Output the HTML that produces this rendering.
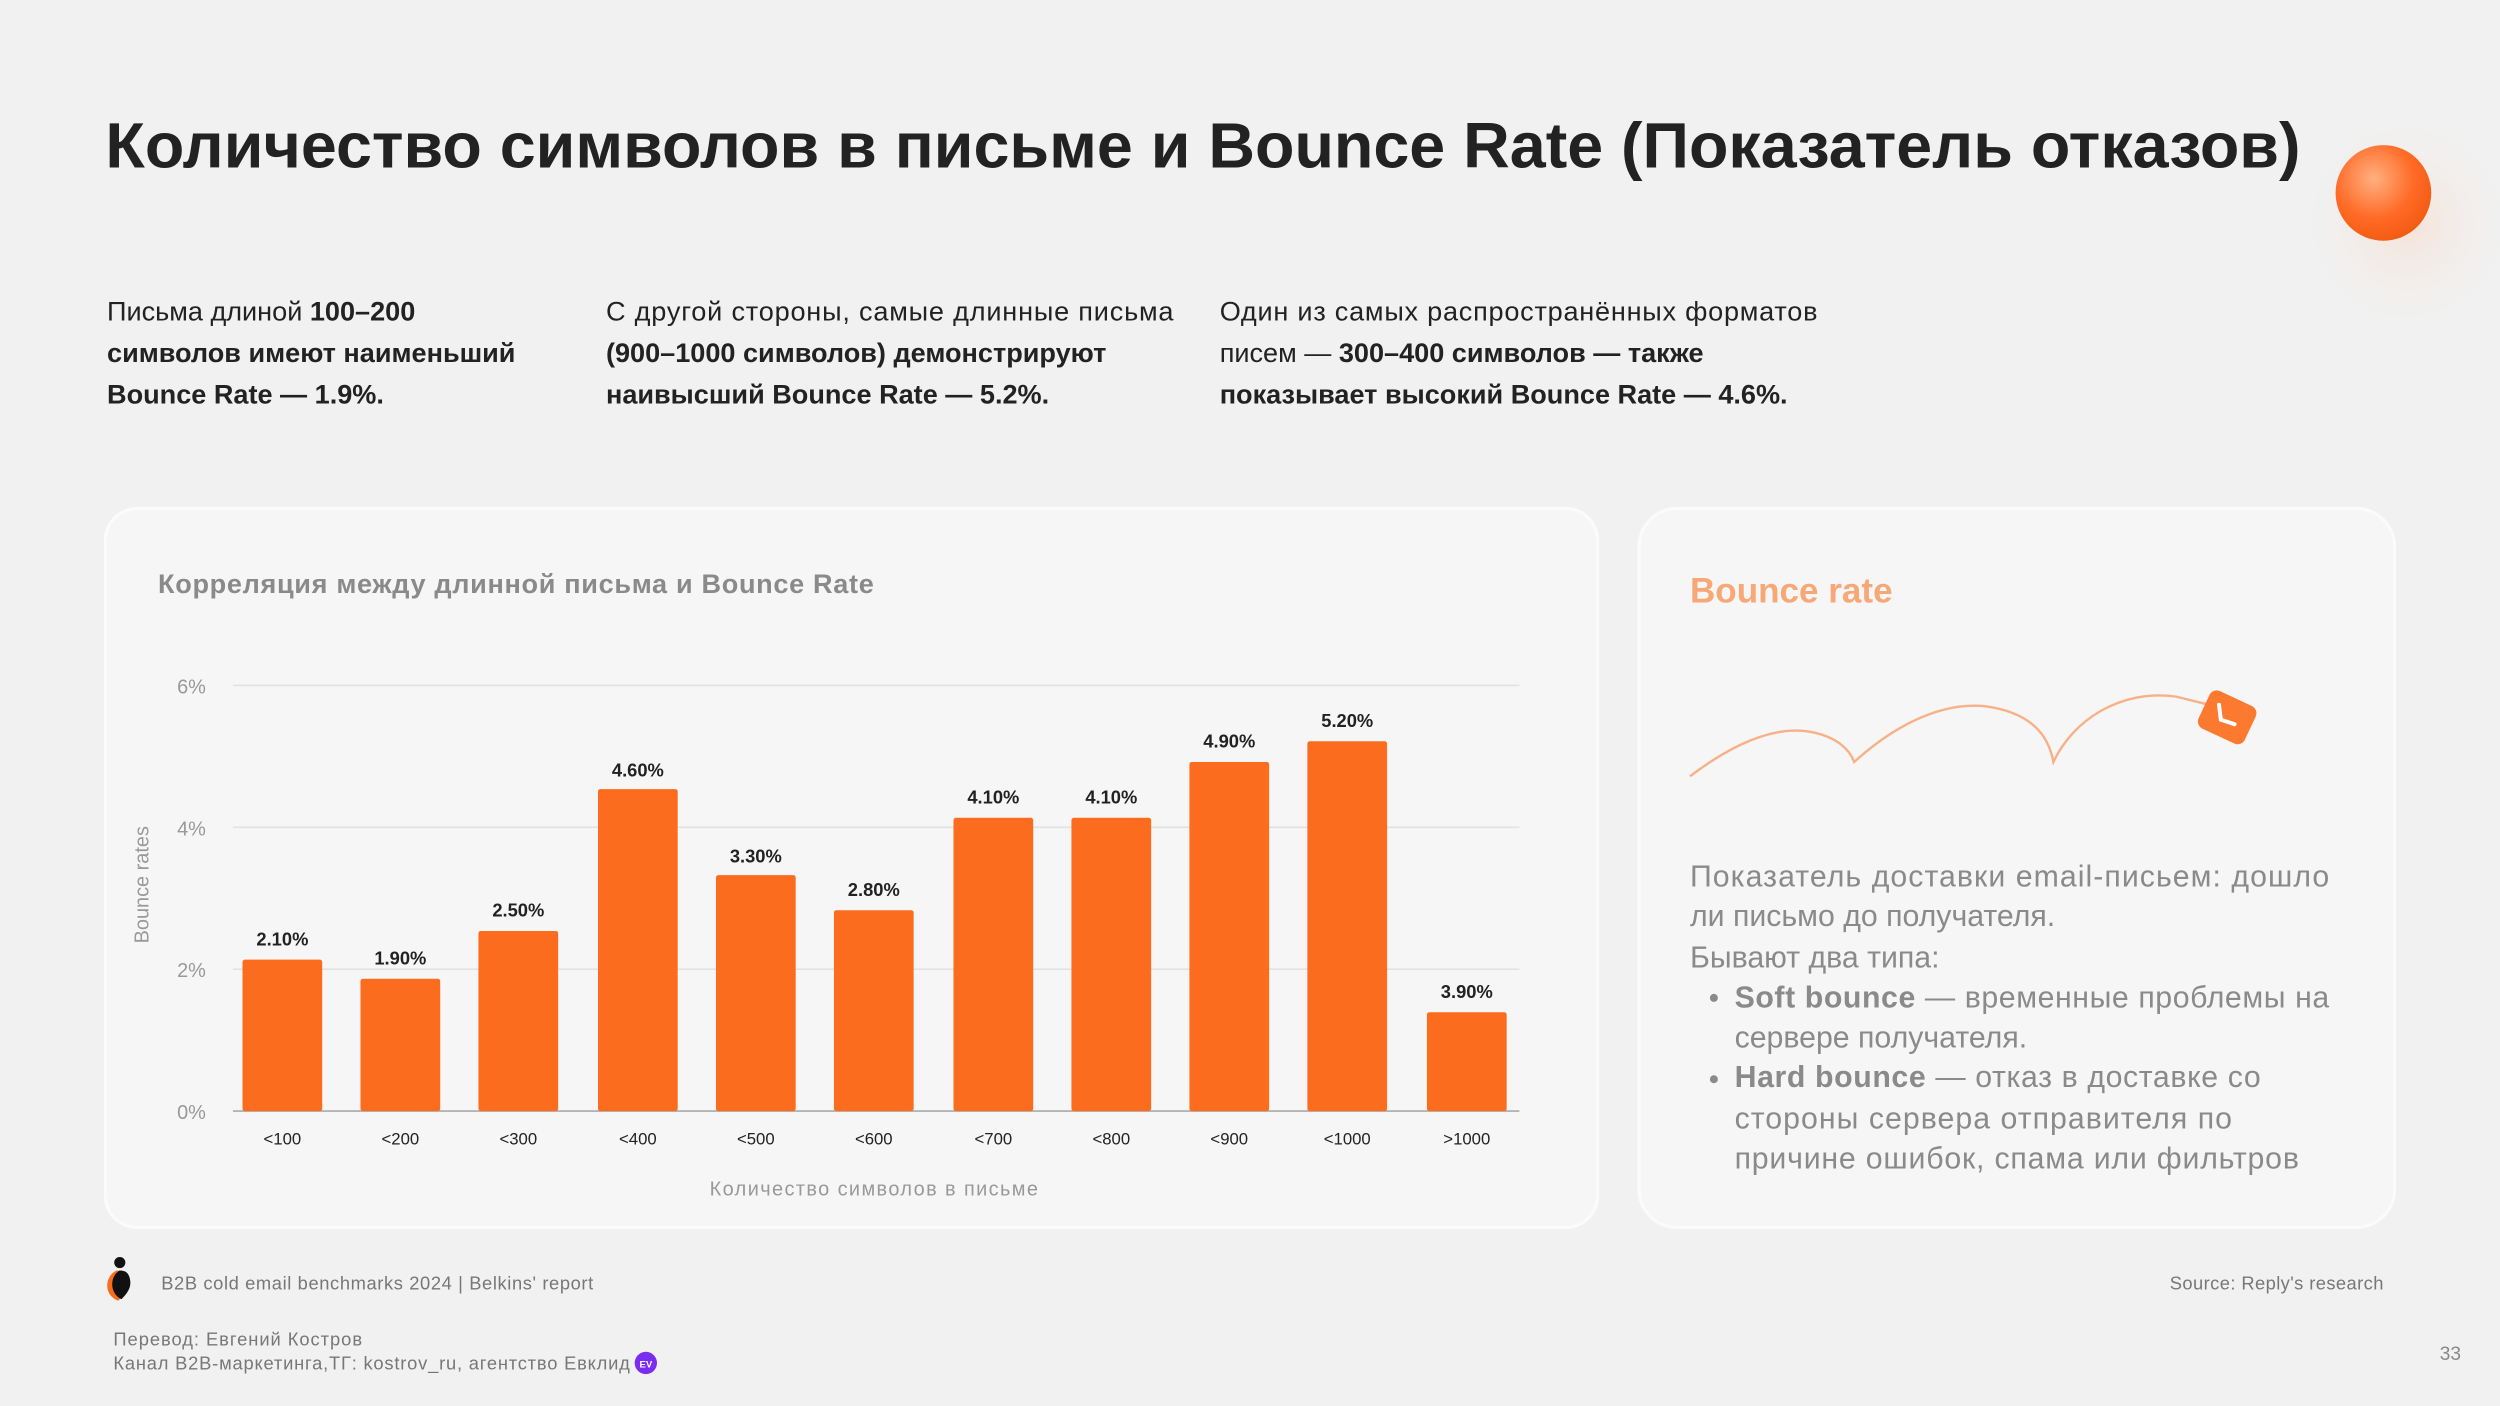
<!DOCTYPE html>
<html><head><meta charset="utf-8"><style>
html,body{margin:0;padding:0;background:#f1f1f1;}
svg{display:block;}
text{font-family:"Liberation Sans","DejaVu Sans",sans-serif;}
</style></head><body>
<svg width="2500" height="1406" viewBox="0 0 1568 882" xmlns="http://www.w3.org/2000/svg">
<defs>
<radialGradient id="sph" cx="0.4" cy="0.35" r="0.7">
<stop offset="0" stop-color="#ffb080"/><stop offset="0.6" stop-color="#ff6a26"/><stop offset="1" stop-color="#f05a10"/>
</radialGradient>
<radialGradient id="glow" cx="0.5" cy="0.5" r="0.5">
<stop offset="0" stop-color="#f8d8c4" stop-opacity="0.6"/><stop offset="1" stop-color="#f1f1f1" stop-opacity="0"/>
</radialGradient>
</defs>
<rect width="1568" height="882" fill="#f1f1f1"/>
<circle cx="1510" cy="140" r="70" fill="url(#glow)"/>
<circle cx="1495" cy="121" r="30" fill="url(#sph)"/>
<text x="66" y="105" font-size="40" font-weight="bold" fill="#222" textLength="1377" lengthAdjust="spacingAndGlyphs">Количество символов в письме и Bounce Rate (Показатель отказов)</text>

<g font-size="17" fill="#222">
<text x="67" y="201">Письма длиной <tspan font-weight="bold">100–200</tspan></text>
<text x="67" y="227" font-weight="bold">символов имеют наименьший</text>
<text x="67" y="253" font-weight="bold">Bounce Rate — 1.9%.</text>
<text x="380" y="201" textLength="356">С другой стороны, самые длинные письма</text>
<text x="380" y="227" font-weight="bold">(900–1000 символов) демонстрируют</text>
<text x="380" y="253" font-weight="bold">наивысший Bounce Rate — 5.2%.</text>
<text x="765" y="201" textLength="375">Один из самых распространённых форматов</text>
<text x="765" y="227">писем — <tspan font-weight="bold">300–400 символов — также</tspan></text>
<text x="765" y="253" font-weight="bold">показывает высокий Bounce Rate — 4.6%.</text>
</g>

<rect x="66" y="319" width="936" height="451" rx="20" fill="#f6f6f6" stroke="#fbfbfb" stroke-width="2"/>
<rect x="1028" y="319" width="474" height="451" rx="24" fill="#f6f6f6" stroke="#fbfbfb" stroke-width="2"/>

<text x="99" y="372" font-size="17" font-weight="bold" fill="#8a8a8a" textLength="449">Корреляция между длинной письма и Bounce Rate</text>

<g stroke="#e2e2e2" stroke-width="1">
<line x1="146" y1="430" x2="953" y2="430"/>
<line x1="146" y1="519" x2="953" y2="519"/>
<line x1="146" y1="608" x2="953" y2="608"/>
</g>
<line x1="146" y1="697" x2="953" y2="697" stroke="#aaa" stroke-width="1"/>
<g font-size="12.5" fill="#999" text-anchor="end">
<text x="129" y="435">6%</text><text x="129" y="524">4%</text><text x="129" y="613">2%</text><text x="129" y="702">0%</text>
</g>
<text transform="translate(93,555) rotate(-90)" font-size="12.5" fill="#999" text-anchor="middle">Bounce rates</text>
<text x="548" y="750" font-size="12.5" fill="#999" text-anchor="middle" textLength="206">Количество символов в письме</text>

<g fill="#fb6c1e">
<rect x="152" y="602" width="50" height="95" rx="1.5"/>
<rect x="226" y="614" width="50" height="83" rx="1.5"/>
<rect x="300" y="584" width="50" height="113" rx="1.5"/>
<rect x="375" y="495" width="50" height="202" rx="1.5"/>
<rect x="449" y="549" width="50" height="148" rx="1.5"/>
<rect x="523" y="571" width="50" height="126" rx="1.5"/>
<rect x="598" y="513" width="50" height="184" rx="1.5"/>
<rect x="672" y="513" width="50" height="184" rx="1.5"/>
<rect x="746" y="478" width="50" height="219" rx="1.5"/>
<rect x="820" y="465" width="50" height="232" rx="1.5"/>
<rect x="895" y="635" width="50" height="62" rx="1.5"/>
</g>
<g font-size="11.5" font-weight="bold" fill="#222" text-anchor="middle">
<text x="177" y="593">2.10%</text><text x="251" y="605">1.90%</text><text x="325" y="575">2.50%</text>
<text x="400" y="487">4.60%</text><text x="474" y="541">3.30%</text><text x="548" y="562">2.80%</text>
<text x="623" y="504">4.10%</text><text x="697" y="504">4.10%</text><text x="771" y="469">4.90%</text>
<text x="845" y="456">5.20%</text><text x="920" y="626">3.90%</text>
</g>
<g font-size="10.5" fill="#222" text-anchor="middle">
<text x="177" y="718">&lt;100</text><text x="251" y="718">&lt;200</text><text x="325" y="718">&lt;300</text>
<text x="400" y="718">&lt;400</text><text x="474" y="718">&lt;500</text><text x="548" y="718">&lt;600</text>
<text x="623" y="718">&lt;700</text><text x="697" y="718">&lt;800</text><text x="771" y="718">&lt;900</text>
<text x="845" y="718">&lt;1000</text><text x="920" y="718">&gt;1000</text>
</g>

<text x="1060" y="378" font-size="22" font-weight="bold" fill="#f8a877">Bounce rate</text>
<path d="M1060,487 C1085,468 1112,455 1135,459 C1152,462 1160,470 1163,478 C1185,458 1215,440 1245,443 C1275,447 1285,462 1288,478 C1300,452 1330,432 1365,437 L1385,442" fill="none" stroke="#f8b086" stroke-width="1.5"/>
<g transform="translate(1397,450) rotate(25)">
<rect x="-16" y="-13" width="32" height="26" rx="5" fill="#fb7a30"/>
<path d="M-8,-5 L-3,3 L6,2" fill="none" stroke="#fff" stroke-width="2.5" stroke-linecap="round"/>
</g>

<g font-size="19" fill="#8a8a8a">
<text x="1060" y="556" textLength="401">Показатель доставки email-письем: дошло</text>
<text x="1060" y="581">ли письмо до получателя.</text>
<text x="1060" y="607">Бывают два типа:</text>
<circle cx="1075" cy="626" r="2.5"/>
<text x="1088" y="632" textLength="373"><tspan font-weight="bold">Soft bounce</tspan> — временные проблемы на</text>
<text x="1088" y="657">сервере получателя.</text>
<circle cx="1075" cy="677" r="2.5"/>
<text x="1088" y="682" textLength="330"><tspan font-weight="bold">Hard bounce</tspan> — отказ в доставке со</text>
<text x="1088" y="708" textLength="312">стороны сервера отправителя по</text>
<text x="1088" y="733" textLength="354">причине ошибок, спама или фильтров</text>
</g>

<g>
<circle cx="75" cy="792" r="3.5" fill="#111"/>
<path d="M73,797 C66,800 64,812 74,816 C78,812 82,808 80,802 C79,798 76,797 73,797Z" fill="#fb6c1e"/>
<path d="M75,797 C69,800 68,811 76,815 C80,811 83,807 81,801 C80,798 78,797 75,797Z" fill="#111"/>
</g>
<g font-size="11.5" fill="#777">
<text x="101" y="809" textLength="271">B2B cold email benchmarks 2024 | Belkins' report</text>
<text x="1361" y="809" textLength="134">Source: Reply's research</text>
<text x="71" y="844" textLength="156">Перевод: Евгений Костров</text>
<text x="71" y="859" textLength="324">Канал B2B-маркетинга,ТГ: kostrov_ru, агентство Евклид</text>
<text x="1537" y="853" font-size="12" text-anchor="middle" fill="#888">33</text>
</g>
<circle cx="405" cy="855" r="7" fill="#7a2cf0"/>
<text x="405" y="858" font-size="6" font-weight="bold" fill="#fff" text-anchor="middle">EV</text>
</svg>
</body></html>
